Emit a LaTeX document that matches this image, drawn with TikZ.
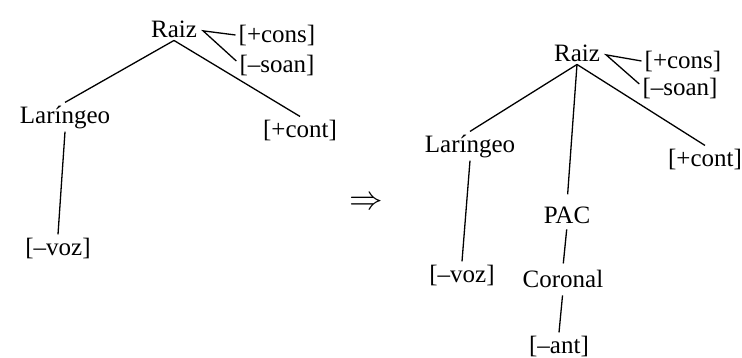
\documentclass[tikz,border=0pt]{standalone}
\usepackage{fontspec}
\setmainfont{Liberation Serif}
\usetikzlibrary{calc}
\begin{document}
\begin{tikzpicture}[x=1pt,y=-1pt,
  lbl/.style={anchor=base,inner sep=3pt,font=\fontsize{25}{30}\selectfont},
  edge/.style={line width=1.3pt,black}]
\useasboundingbox (0,0) rectangle (742,357);
% left tree
\node[lbl] (raizL) at (174,37) {Raiz};
\node[lbl] (consL) at (277,42) {[+cons]};
\node[lbl] (soanL) at (277,72) {[\textendash soan]};
\node[lbl] (larL) at (65,123) {Laríngeo};
\node[lbl] (contL) at (300,137) {[+cont]};
\node[lbl] (vozL) at (58,255) {[\textendash voz]};
\coordinate (vL) at ($(raizL.east)+(3,2)$);
\draw[edge] (raizL.south) -- (larL.north);
\draw[edge] (raizL.south) -- (contL.north);
\draw[edge] (consL.west) -- (vL) -- ($(soanL.west)+(0,-4)$);
\draw[edge] (larL.south) -- (vozL.north);
% arrow
\node[inner sep=0pt,scale=1.35] (arr) at (366,203) {\fontsize{24}{28}\selectfont$\Rightarrow$};
% right tree
\node[lbl] (raizR) at (577,61) {Raiz};
\node[lbl] (consR) at (683,68) {[+cons]};
\node[lbl] (soanR) at (680,95) {[\textendash soan]};
\node[lbl] (larR) at (470,152) {Laríngeo};
\node[lbl] (contR) at (705,166) {[+cont]};
\node[lbl] (pac) at (567,223) {PAC};
\node[lbl] (cor) at (563,287) {Coronal};
\node[lbl] (vozR) at (462,282) {[\textendash voz]};
\node[lbl] (ant) at (559,353) {[\textendash ant]};
\coordinate (vR) at ($(raizR.east)+(3,2)$);
\draw[edge] (raizR.south) -- (larR.north);
\draw[edge] (raizR.south) -- (contR.north);
\draw[edge,shorten >=9pt] (raizR.south) -- (pac.north);
\draw[edge] (consR.west) -- (vR) -- ($(soanR.west)+(0,-4)$);
\draw[edge] (larR.south) -- (vozR.north);
\draw[edge,shorten <=3pt,shorten >=3pt] (pac.south) -- (cor.north);
\draw[edge,shorten <=5pt] (cor.south) -- (ant.north);
\end{tikzpicture}
\end{document}
